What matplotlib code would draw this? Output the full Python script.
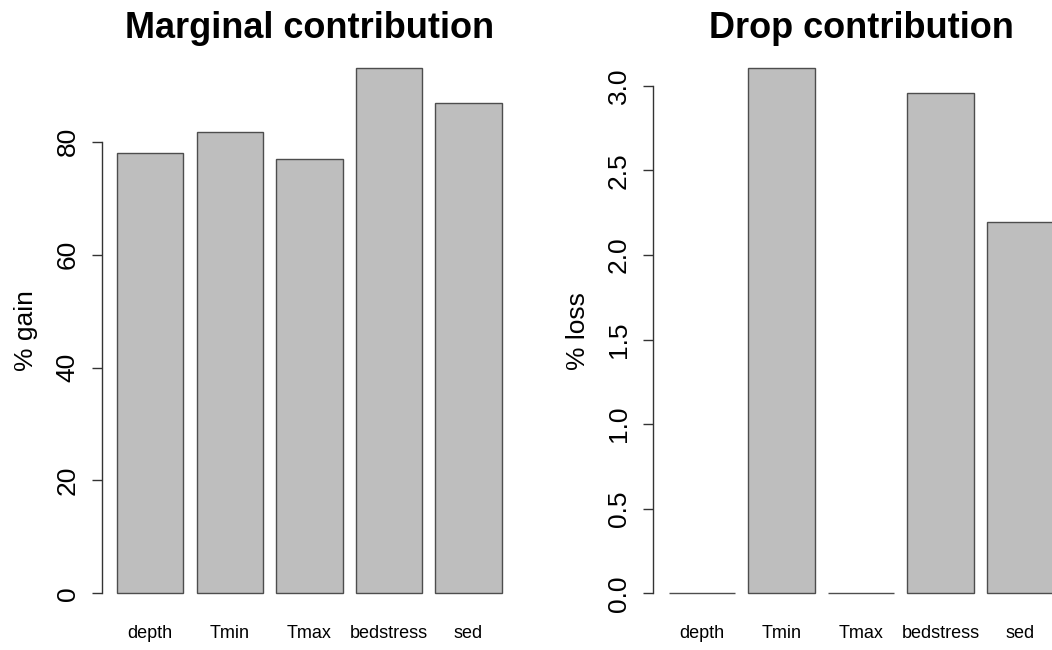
import matplotlib
matplotlib.use("Agg")
import matplotlib.pyplot as plt

plt.rcParams['font.family'] = ['Liberation Sans', 'DejaVu Sans']

variables = ["depth", "Tmin", "Tmax", "bedstress", "sed"]
gain = [78.05, 81.67, 76.9, 93.0, 86.86]   # marginal contribution, % gain
loss = [0.0, 3.103, 0.0, 2.957, 2.196]     # drop contribution, % loss

gain_ticks = [0, 20, 40, 60, 80]
loss_ticks = [0.0, 0.5, 1.0, 1.5, 2.0, 2.5, 3.0]

BAR_COL = "#BEBEBE"
EDGE_COL = "#4d4d4d"

fig = plt.figure(figsize=(10.52, 6.5), dpi=100)
ax1 = fig.add_axes([0.0967, 0.0549, 0.3948, 0.8723])
ax2 = fig.add_axes([0.621, 0.0549, 0.3948, 0.8723])


def r_barplot(ax, vals, ticks, fmt, title, ylab):
    # R style barplot: width 1, space 0.2, 4% axis extension
    centers = [0.7 + 1.2 * i for i in range(len(vals))]
    ax.bar(centers, vals, width=1.0, color=BAR_COL, edgecolor=EDGE_COL, linewidth=1.0)
    x0, x1 = 0.2, 0.2 + 1.2 * len(vals) - 0.2
    dx = (x1 - x0) * 0.04
    ax.set_xlim(x0 - dx, x1 + dx)
    top = max(vals)
    ax.set_ylim(-top * 0.04, top * 1.04)

    for s in ["top", "right", "bottom"]:
        ax.spines[s].set_visible(False)
    ax.spines["left"].set_bounds(ticks[0], ticks[-1])
    ax.spines["left"].set_color("#333333")
    ax.spines["left"].set_linewidth(1.0)

    ax.set_yticks(ticks)
    ax.set_yticklabels([fmt.format(t) for t in ticks], rotation=90, va="center", fontsize=19)
    ax.tick_params(axis="y", length=7, width=1.0, color="#333333", pad=9)

    ax.set_xticks(centers)
    ax.set_xticklabels(variables, fontsize=13)
    ax.tick_params(axis="x", length=0, pad=8)

    ax.set_ylabel(ylab, fontsize=19)
    ax.yaxis.set_label_coords(-0.153, 0.5)
    ax.text(0.5, 1.034, title, transform=ax.transAxes, ha="center", va="center",
            fontsize=26, fontweight="bold")


r_barplot(ax1, gain, gain_ticks, "{:d}", "Marginal contribution", "% gain")
r_barplot(ax2, loss, loss_ticks, "{:.1f}", "Drop contribution", "% loss")

fig.savefig("out.png", dpi=100)
